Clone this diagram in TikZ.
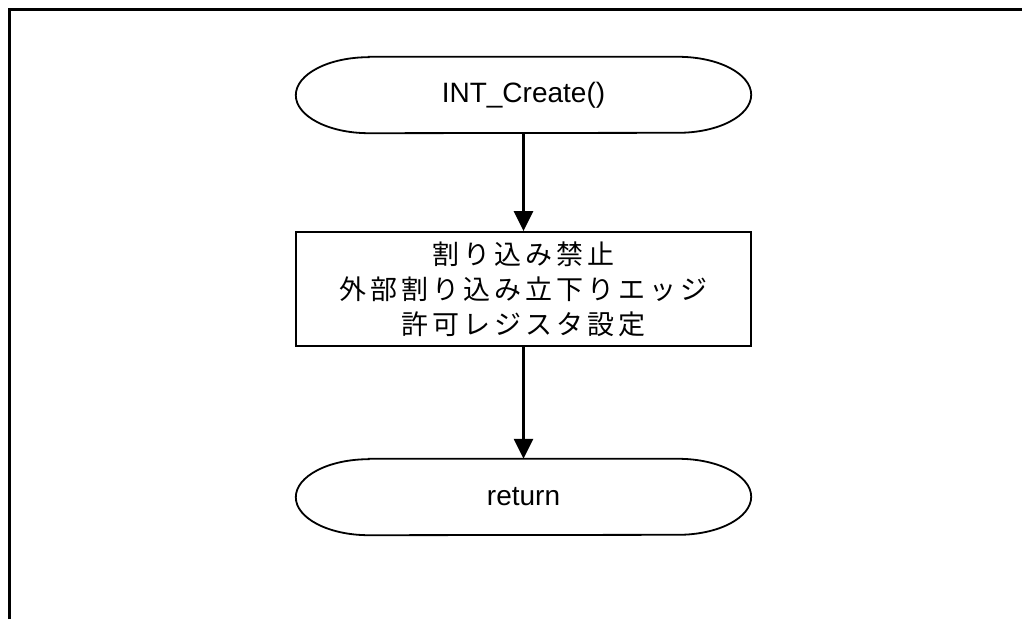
\documentclass[tikz,border=0pt]{standalone}
\usepackage{fontspec}
\setmainfont{Liberation Sans}
\newfontfamily\jpfont[LetterSpace=15]{Noto Sans CJK JP}
\usetikzlibrary{arrows.meta}
\tikzset{
  term/.style={minimum width=455pt,minimum height=76pt,inner sep=0pt,
    font=\fontsize{28}{34}\selectfont},
  procbox/.style={draw,line width=1.8pt,minimum width=455pt,minimum height=114pt,
    inner sep=0pt,align=center,font=\jpfont\fontsize{27}{35}\selectfont},
  flow/.style={line width=2.6pt,-{Triangle[length=20pt,width=19pt]}}
}
\begin{document}
\begin{tikzpicture}[x=1pt,y=1pt]
      \useasboundingbox (0,0) rectangle (1022,619);
      \draw[line width=3pt] (9.3,0) -- (9.3,609.7) -- (1022,609.7);
      \draw
        (523.5,524) node[term] (start){INT\_Create()}
        (523.5,330) node[procbox] (init){割り込み禁止\\外部割り込み立下りエッジ\\許可レジスタ設定}
        (523.5,122) node[term] (ret){return};
      \foreach \n in {start,ret}
        \draw[line width=1.8pt] ([xshift=73pt]\n.north west) -- ([xshift=-73pt]\n.north east)
          arc[start angle=90,end angle=-90,x radius=73pt,y radius=38pt]
          -- ([xshift=73pt]\n.south west)
          arc[start angle=270,end angle=90,x radius=73pt,y radius=38pt] -- cycle;
      \begin{scope}[flow]
        \draw (start) to (init);
        \draw (init) to (ret);
      \end{scope}
    \end{tikzpicture}
\end{document}
